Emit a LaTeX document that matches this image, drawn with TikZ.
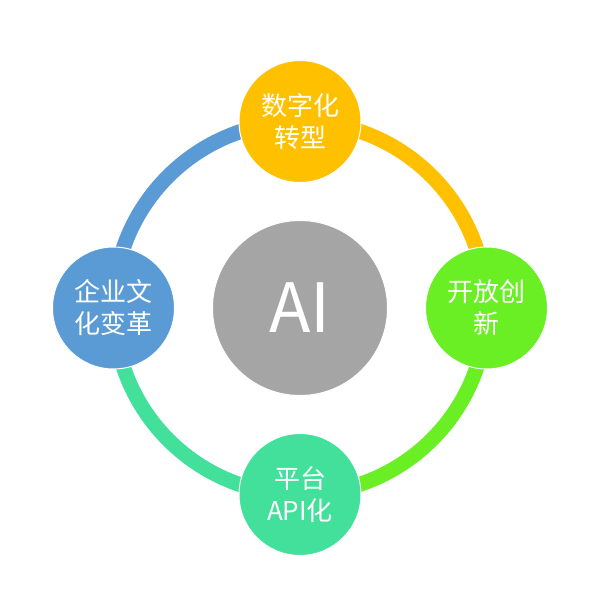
\documentclass[tikz,border=0pt]{standalone}
\usepackage{fontspec}
\setmainfont{Noto Sans CJK SC}
\usepackage{xcolor}
\usetikzlibrary{positioning,backgrounds}

\definecolor{aigray}{HTML}{A5A5A5}
\definecolor{digyellow}{HTML}{FFC000}
\definecolor{opengreen}{HTML}{6AEE24}
\definecolor{apiteal}{HTML}{42E09B}
\definecolor{cultblue}{HTML}{5B9BD5}

\begin{document}
\begin{tikzpicture}[
  x=1pt, y=1pt,
  node distance=37pt,
  core/.style={circle, draw=white, line width=1pt, fill=aigray, minimum size=175pt, inner sep=0pt, text=white, font=\fontsize{68}{68}\selectfont},
  topic/.style={circle, draw=white, line width=1pt, minimum size=122pt, inner sep=0pt, align=center, text=white, font=\fontsize{26}{32}\selectfont},
  ring/.style={line width=15pt}
]
\useasboundingbox (-300,-307) rectangle (315,308);
\node[core] (ai) {AI};
\node[topic, fill=digyellow, above=of ai] (digit) {数字化\\转型};
\node[topic, fill=opengreen, right=of ai] (open) {开放创\\新};
\node[topic, fill=apiteal, below=of ai] (api) {平台\\API化};
\node[topic, fill=cultblue, left=of ai] (culture) {企业文\\化变革};

% ring segments behind the topic circles
\begin{scope}[on background layer]
\draw[ring, digyellow] (digit.center) arc[start angle=90, end angle=0, radius=186];
\draw[ring, opengreen] (open.center) arc[start angle=0, end angle=-90, radius=186];
\draw[ring, apiteal] (api.center) arc[start angle=-90, end angle=-180, radius=186];
\draw[ring, cultblue] (culture.center) arc[start angle=180, end angle=90, radius=186];
\end{scope}
\end{tikzpicture}
\end{document}
